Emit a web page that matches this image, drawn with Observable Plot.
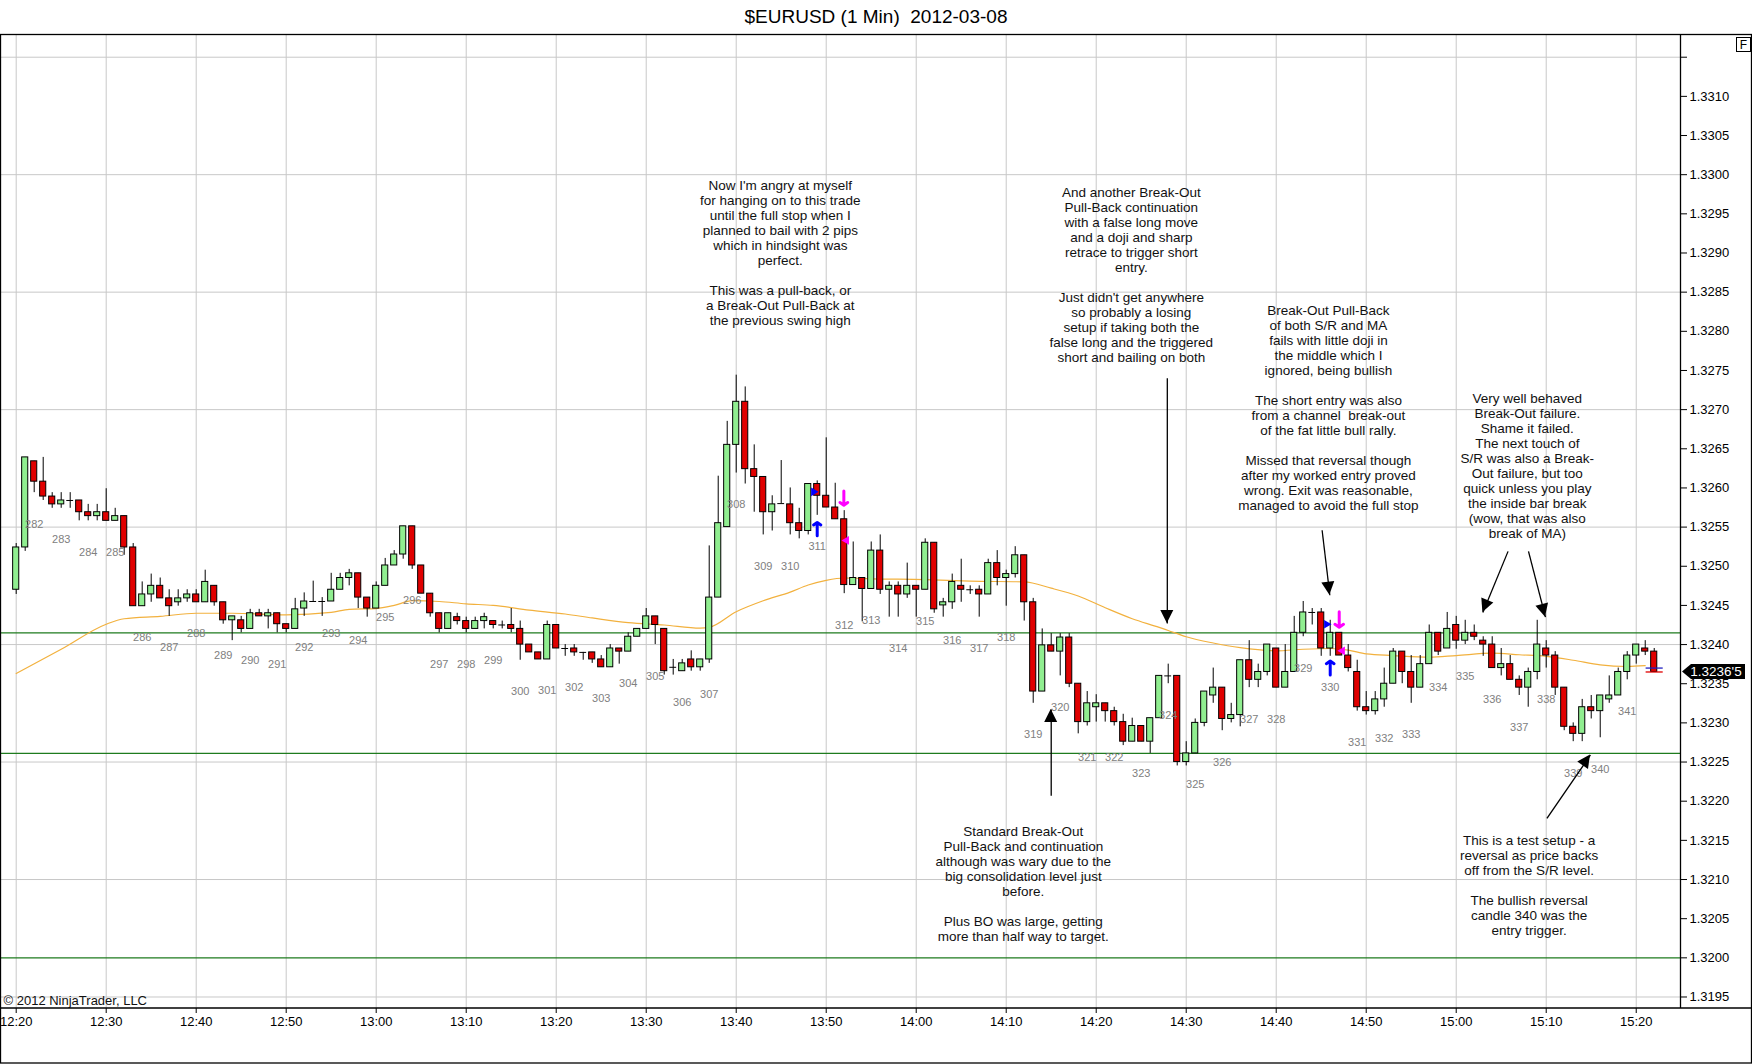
<!DOCTYPE html>
<html><head><meta charset="utf-8">
<script src="https://cdn.jsdelivr.net/npm/d3@7"></script>
<script src="https://cdn.jsdelivr.net/npm/@observablehq/plot@0.6"></script>
<style>
body{margin:0;background:#fff;font-family:"Liberation Sans",Arial,sans-serif;}
#wrap{position:relative;width:1752px;height:1064px;overflow:hidden;background:#fff;}
#title{height:34px;line-height:34px;text-align:center;font-size:19px;color:#000;white-space:pre;}
#chart svg{display:block;}
</style></head><body>
<div id="wrap"><div id="title">$EURUSD (1 Min)  2012-03-08</div><div id="chart"></div></div>
<script>
// ---- data: 1-minute bars starting 12:20 (bar index 0) ----
const open = [
1.32470,1.32524,1.32634,1.32608,1.32589,1.32579,1.32584,1.32584,1.32569,1.32564,
1.32569,1.32558,1.32564,1.32524,1.32449,1.32464,1.32475,1.32459,1.32454,1.32459,
1.32464,1.32454,1.32475,1.32454,1.32431,1.32431,1.32420,1.32440,1.32436,1.32440,
1.32426,1.32420,1.32446,1.32455,1.32455,1.32455,1.32470,1.32485,1.32491,1.32460,
1.32446,1.32475,1.32501,1.32515,1.32551,1.32501,1.32465,1.32440,1.32420,1.32435,
1.32430,1.32420,1.32430,1.32430,1.32425,1.32425,1.32420,1.32400,1.32390,1.32381,
1.32425,1.32395,1.32395,1.32390,1.32390,1.32381,1.32371,1.32395,1.32391,1.32410,
1.32420,1.32436,1.32420,1.32371,1.32366,1.32381,1.32371,1.32381,1.32460,1.32550,
1.32655,1.32710,1.32624,1.32614,1.32569,1.32580,1.32579,1.32555,1.32545,1.32605,
1.32590,1.32575,1.32560,1.32476,1.32485,1.32471,1.32520,1.32470,1.32475,1.32464,
1.32475,1.32470,1.32530,1.32450,1.32454,1.32475,1.32470,1.32470,1.32464,1.32504,
1.32485,1.32490,1.32514,1.32454,1.32340,1.32399,1.32391,1.32409,1.32350,1.32301,
1.32320,1.32325,1.32315,1.32301,1.32276,1.32296,1.32276,1.32306,1.32360,1.32360,
1.32250,1.32261,1.32300,1.32335,1.32345,1.32305,1.32310,1.32380,1.32355,1.32365,
1.32395,1.32345,1.32365,1.32415,1.32441,1.32441,1.32395,1.32415,1.32386,1.32365,
1.32320,1.32315,1.32330,1.32350,1.32391,1.32365,1.32345,1.32375,1.32415,1.32395,
1.32425,1.32405,1.32415,1.32405,1.32400,1.32370,1.32375,1.32355,1.32345,1.32365,
1.32395,1.32386,1.32345,1.32295,1.32286,1.32320,1.32315,1.32330,1.32335,1.32365,
1.32386,1.32395,1.32391];
const high = [
1.32529,1.32639,1.32634,1.32639,1.32594,1.32594,1.32594,1.32584,1.32579,1.32579,
1.32599,1.32574,1.32564,1.32529,1.32480,1.32490,1.32485,1.32470,1.32470,1.32470,
1.32470,1.32495,1.32475,1.32454,1.32436,1.32436,1.32445,1.32445,1.32445,1.32440,
1.32426,1.32459,1.32466,1.32481,1.32460,1.32491,1.32491,1.32496,1.32491,1.32460,
1.32480,1.32510,1.32520,1.32551,1.32551,1.32501,1.32465,1.32440,1.32440,1.32440,
1.32435,1.32435,1.32440,1.32430,1.32430,1.32446,1.32430,1.32400,1.32390,1.32430,
1.32425,1.32400,1.32400,1.32390,1.32390,1.32386,1.32400,1.32395,1.32415,1.32420,
1.32446,1.32436,1.32420,1.32381,1.32381,1.32392,1.32381,1.32526,1.32615,1.32685,
1.32744,1.32729,1.32655,1.32614,1.32590,1.32635,1.32600,1.32574,1.32605,1.32609,
1.32664,1.32606,1.32571,1.32531,1.32485,1.32531,1.32540,1.32480,1.32480,1.32504,
1.32475,1.32535,1.32530,1.32459,1.32490,1.32509,1.32475,1.32475,1.32509,1.32520,
1.32495,1.32525,1.32514,1.32459,1.32420,1.32414,1.32414,1.32414,1.32350,1.32340,
1.32336,1.32325,1.32320,1.32311,1.32306,1.32296,1.32306,1.32360,1.32375,1.32360,
1.32276,1.32305,1.32340,1.32370,1.32345,1.32325,1.32380,1.32405,1.32375,1.32400,
1.32395,1.32400,1.32436,1.32455,1.32446,1.32446,1.32431,1.32415,1.32400,1.32380,
1.32340,1.32340,1.32370,1.32395,1.32391,1.32386,1.32386,1.32425,1.32415,1.32441,
1.32436,1.32431,1.32425,1.32410,1.32410,1.32395,1.32386,1.32360,1.32370,1.32431,
1.32405,1.32391,1.32345,1.32300,1.32330,1.32335,1.32335,1.32360,1.32370,1.32391,
1.32400,1.32405,1.32395];
const low = [
1.32464,1.32519,1.32594,1.32584,1.32574,1.32574,1.32574,1.32558,1.32558,1.32558,
1.32558,1.32558,1.32514,1.32449,1.32449,1.32454,1.32459,1.32436,1.32449,1.32454,
1.32454,1.32454,1.32449,1.32426,1.32405,1.32415,1.32420,1.32436,1.32420,1.32415,
1.32415,1.32420,1.32436,1.32455,1.32436,1.32455,1.32470,1.32475,1.32446,1.32435,
1.32446,1.32475,1.32501,1.32509,1.32496,1.32465,1.32435,1.32415,1.32420,1.32425,
1.32415,1.32420,1.32420,1.32420,1.32420,1.32415,1.32380,1.32390,1.32381,1.32381,
1.32395,1.32385,1.32385,1.32380,1.32376,1.32371,1.32371,1.32375,1.32391,1.32410,
1.32420,1.32400,1.32361,1.32361,1.32366,1.32366,1.32366,1.32376,1.32460,1.32550,
1.32619,1.32605,1.32569,1.32540,1.32545,1.32580,1.32540,1.32535,1.32540,1.32565,
1.32575,1.32560,1.32465,1.32476,1.32429,1.32471,1.32464,1.32435,1.32435,1.32459,
1.32435,1.32470,1.32440,1.32435,1.32445,1.32454,1.32464,1.32435,1.32464,1.32475,
1.32449,1.32485,1.32430,1.32325,1.32340,1.32391,1.32360,1.32345,1.32286,1.32296,
1.32301,1.32301,1.32296,1.32271,1.32276,1.32276,1.32261,1.32306,1.32350,1.32245,
1.32245,1.32261,1.32295,1.32325,1.32290,1.32300,1.32295,1.32345,1.32345,1.32360,
1.32345,1.32345,1.32365,1.32410,1.32425,1.32385,1.32385,1.32386,1.32365,1.32315,
1.32310,1.32310,1.32320,1.32350,1.32350,1.32325,1.32345,1.32375,1.32386,1.32395,
1.32394,1.32400,1.32405,1.32385,1.32370,1.32360,1.32355,1.32335,1.32320,1.32355,
1.32370,1.32335,1.32290,1.32276,1.32276,1.32305,1.32281,1.32325,1.32335,1.32355,
1.32375,1.32386,1.32365];
const close = [
1.32524,1.32639,1.32608,1.32589,1.32579,1.32584,1.32584,1.32569,1.32564,1.32569,
1.32558,1.32564,1.32524,1.32449,1.32464,1.32475,1.32459,1.32449,1.32459,1.32464,
1.32454,1.32480,1.32454,1.32431,1.32436,1.32420,1.32440,1.32436,1.32440,1.32426,
1.32420,1.32445,1.32455,1.32455,1.32455,1.32470,1.32485,1.32491,1.32460,1.32446,
1.32475,1.32501,1.32515,1.32551,1.32501,1.32465,1.32440,1.32420,1.32440,1.32430,
1.32420,1.32430,1.32435,1.32425,1.32425,1.32420,1.32400,1.32390,1.32381,1.32425,
1.32395,1.32395,1.32390,1.32390,1.32381,1.32371,1.32395,1.32391,1.32410,1.32420,
1.32436,1.32425,1.32366,1.32371,1.32376,1.32371,1.32381,1.32460,1.32555,1.32655,
1.32710,1.32624,1.32614,1.32569,1.32579,1.32580,1.32555,1.32545,1.32605,1.32590,
1.32575,1.32560,1.32476,1.32485,1.32471,1.32520,1.32470,1.32475,1.32464,1.32475,
1.32470,1.32530,1.32445,1.32454,1.32480,1.32470,1.32470,1.32464,1.32504,1.32485,
1.32490,1.32514,1.32454,1.32340,1.32399,1.32391,1.32409,1.32350,1.32301,1.32325,
1.32325,1.32315,1.32301,1.32276,1.32296,1.32276,1.32306,1.32360,1.32360,1.32250,
1.32261,1.32300,1.32340,1.32345,1.32305,1.32310,1.32380,1.32355,1.32365,1.32400,
1.32345,1.32365,1.32415,1.32441,1.32441,1.32395,1.32415,1.32386,1.32370,1.32320,
1.32315,1.32330,1.32350,1.32391,1.32365,1.32345,1.32375,1.32415,1.32391,1.32420,
1.32405,1.32415,1.32410,1.32400,1.32370,1.32375,1.32355,1.32345,1.32365,1.32400,
1.32386,1.32345,1.32295,1.32286,1.32320,1.32315,1.32335,1.32335,1.32365,1.32386,
1.32400,1.32391,1.32365];

// moving average (bar index, value)
const maBar = [0,5,10,12,16,20,24,30,35,37,40,42,44,47,50,53,57,61,64,68,72,76,77,80,83,86,88,90,92,95,101,106,112,115,118,121,124,127,128,130,133,136,140,143,146,148,150,153,157,160,164,167,170,173,176,179,181];
const maVal = [1.32363,1.32394,1.32426,1.32433,1.32436,1.32440,1.32440,1.32438,1.32441,1.32445,1.32446,1.32450,1.32456,1.32455,1.32452,1.32450,1.32444,1.32439,1.32434,1.32428,1.32425,1.32421,1.32422,1.32442,1.32456,1.32467,1.32476,1.32482,1.32485,1.32484,1.32483,1.32481,1.32480,1.32472,1.32462,1.32447,1.32433,1.32422,1.32418,1.32410,1.32402,1.32396,1.32392,1.32394,1.32395,1.32393,1.32388,1.32386,1.32384,1.32386,1.32389,1.32387,1.32385,1.32380,1.32374,1.32372,1.32373];

// bar count labels (every third bar, from bar 2)
const barLabels = [282,283,284,285,286,287,288,289,290,291,292,293,294,295,296,297,298,299,300,301,302,303,304,305,306,307,308,309,310,311,312,313,314,315,316,317,318,319,320,321,322,323,324,325,326,327,328,329,330,331,332,333,334,335,336,337,338,339,340,341];

const srLevels = [1.32415, 1.32261, 1.32000];
const lastPrice = 1.32365;
const lastPriceText = "1.3236'5";

const xTicks = [0,10,20,30,40,50,60,70,80,90,100,110,120,130,140,150,160,170,180];
const xTickLabels = ["12:20","12:30","12:40","12:50","13:00","13:10","13:20","13:30","13:40","13:50","14:00","14:10","14:20","14:30","14:40","14:50","15:00","15:10","15:20"];
const yTicks = [1.3195,1.3200,1.3205,1.3210,1.3215,1.3220,1.3225,1.3230,1.3235,1.3240,1.3245,1.3250,1.3255,1.3260,1.3265,1.3270,1.3275,1.3280,1.3285,1.3290,1.3295,1.3300,1.3305,1.3310,1.3315];
const yTickLabels = ["1.3195","1.3200","1.3205","1.3210","1.3215","1.3220","1.3225","1.3230","1.3235","1.3240","1.3245","1.3250","1.3255","1.3260","1.3265","1.3270","1.3275","1.3280","1.3285","1.3290","1.3295","1.3300","1.3305","1.3310",""];
const yGrid = [1.3195,1.3210,1.3225,1.3240,1.3255,1.3270,1.3285,1.3300,1.3315];

const noteText = [
"Now I'm angry at myself\nfor hanging on to this trade\nuntil the full stop when I\nplanned to bail with 2 pips\nwhich in hindsight was\nperfect.\n\nThis was a pull-back, or\na Break-Out Pull-Back at\nthe previous swing high",
"And another Break-Out\nPull-Back continuation\nwith a false long move\nand a doji and sharp\nretrace to trigger short\nentry.\n\nJust didn't get anywhere\nso probably a losing\nsetup if taking both the\nfalse long and the triggered\nshort and bailing on both",
"Break-Out Pull-Back\nof both S/R and MA\nfails with little doji in\nthe middle which I\nignored, being bullish\n\nThe short entry was also\nfrom a channel  break-out\nof the fat little bull rally.\n\nMissed that reversal though\nafter my worked entry proved\nwrong. Exit was reasonable,\nmanaged to avoid the full stop",
"Very well behaved\nBreak-Out failure.\nShame it failed.\nThe next touch of\nS/R was also a Break-\nOut failure, but too\nquick unless you play\nthe inside bar break\n(wow, that was also\nbreak of MA)",
"Standard Break-Out\nPull-Back and continuation\nalthough was wary due to the\nbig consolidation level just\nbefore.\n\nPlus BO was large, getting\nmore than half way to target.",
"This is a test setup - a\nreversal as price backs\noff from the S/R level.\n\nThe bullish reversal\ncandle 340 was the\nentry trigger."
];
const noteBar = [84.9, 123.9, 145.8, 167.9, 111.9, 168.1];
const notePrice = [1.32994, 1.32985, 1.32834, 1.32722, 1.32169, 1.32158];

// callout arrows: tail (bar, price) -> tip (bar, price)
const calloutFromBar = [115.0, 127.9, 145.1, 165.76, 168.03, 170.08];
const calloutFromPrice = [1.32207, 1.32740, 1.32546, 1.32519, 1.32519, 1.32178];
const calloutToBar = [115.0, 127.9, 145.96, 162.96, 169.92, 174.92];
const calloutToPrice = [1.32317, 1.32427, 1.32463, 1.32441, 1.32435, 1.32259];

// trade markers
const longArrowBar = [89.0, 146.0], longArrowFrom = [1.32539, 1.32361], longArrowTo = [1.32556, 1.32379];
const shortArrowBar = [91.96, 147.0], shortArrowFrom = [1.32596, 1.32442], shortArrowTo = [1.32578, 1.32422];
const entryMarkBar = [88.6, 145.6], entryMarkPrice = [1.32595, 1.32426];
const exitMarkBar = [92.25, 147.35], exitMarkPrice = [1.32533, 1.32392];

// ---- build ----
const candles = open.map((o, i) => ({k: i, o, h: high[i], l: low[i], c: close[i]}));
const bodies = candles.filter(d => d.o !== d.c);
const dojis = candles.filter(d => d.o === d.c);
const labels = barLabels.map(n => { const k = 2 + 3 * (n - 282); return {k, n, l: low[k]}; });
const ma = maBar.map((k, i) => ({k, v: maVal[i]}));
const notes = noteText.map((t, i) => ({k: noteBar[i], p: notePrice[i], t}));
const callouts = calloutFromBar.map((k, i) => ({k1: k, p1: calloutFromPrice[i], k2: calloutToBar[i], p2: calloutToPrice[i]}));
const longs = longArrowBar.map((k, i) => ({k, p1: longArrowFrom[i], p2: longArrowTo[i]}));
const shorts = shortArrowBar.map((k, i) => ({k, p1: shortArrowFrom[i], p2: shortArrowTo[i]}));
const entries = entryMarkBar.map((k, i) => ({k, p: entryMarkPrice[i]}));
const exits = exitMarkBar.map((k, i) => ({k, p: exitMarkPrice[i]}));

const xDomain = [-1.633, 184.92];
const yDomain = [1.319353, 1.331790];
const FONT = "'Liberation Sans', Arial, sans-serif";

const plot = Plot.plot({
  width: 1752, height: 1030,
  marginTop: 0, marginBottom: 56, marginLeft: 1, marginRight: 72,
  x: {domain: xDomain},
  y: {domain: yDomain},
  style: {fontFamily: FONT, fontSize: "13px", background: "#fff", color: "#000", overflow: "visible"},
  marks: [
    Plot.gridX(xTicks, {stroke: "#c8c8c8", strokeOpacity: 1}),
    Plot.gridY(yGrid, {stroke: "#c8c8c8", strokeOpacity: 1}),
    Plot.ruleY(srLevels, {stroke: "#1e7b1e", strokeWidth: 1.3}),
    Plot.line(ma, {x: "k", y: "v", stroke: "#f2b13e", strokeWidth: 1.2, curve: "monotone-x"}),
    Plot.ruleX(candles, {x: "k", y1: "l", y2: "h", stroke: "#000", strokeWidth: 1}),
    Plot.rect(bodies, {x1: d => d.k - 0.34, x2: d => d.k + 0.34, y1: "o", y2: "c",
      fill: d => d.c > d.o ? "#90ee90" : "#e00000", stroke: "#000", strokeWidth: 1}),
    Plot.ruleY(dojis, {y: "o", x1: d => d.k - 0.38, x2: d => d.k + 0.38, stroke: "#000", strokeWidth: 1}),
    Plot.text(labels, {x: "k", y: "l", dy: 31.5, text: d => String(d.n), fill: "#808080", fontSize: 11}),
    Plot.ruleY([lastPrice + 0.00005], {x1: 181.1, x2: 183.0, stroke: "#2020c0", strokeWidth: 1.3}),
    Plot.ruleY([lastPrice], {x1: 181.1, x2: 183.0, stroke: "#e00000", strokeWidth: 1.3}),
    Plot.arrow(longs, {x1: "k", x2: "k", y1: "p1", y2: "p2", stroke: "#0000ff", strokeWidth: 3, headLength: 6, headAngle: 110}),
    Plot.arrow(shorts, {x1: "k", x2: "k", y1: "p1", y2: "p2", stroke: "#ff00ff", strokeWidth: 3, headLength: 6, headAngle: 110}),
    Plot.dot(entries, {x: "k", y: "p", symbol: "triangle", r: 3.2, fill: "#0000ff", rotate: 90}),
    Plot.dot(exits, {x: "k", y: "p", symbol: "triangle", r: 3.2, fill: "#ff00ff", rotate: -90}),
    Plot.link(callouts, {x1: "k1", y1: "p1", x2: "k2", y2: "p2", stroke: "#000", strokeWidth: 1.3}),
    Plot.text(notes, {x: "k", y: "p", text: "t", lineAnchor: "top", textAnchor: "middle",
      fontSize: 13.5, lineHeight: 15 / 13.5, fill: "#111", ariaLabel: "note"}),
    Plot.text(["© 2012 NinjaTrader, LLC"], {frameAnchor: "bottom-left", textAnchor: "start", lineAnchor: "middle",
      dx: 2, dy: -7.5, fill: "#111", fontSize: 13}),
    Plot.ruleX([xDomain[1]], {stroke: "#000", strokeWidth: 1.3}),
    Plot.axisX({ticks: xTicks, tickFormat: d => xTickLabels[xTicks.indexOf(d)], tickSize: 5, tickPadding: 3, fontSize: 13, label: null}),
    Plot.axisY({ticks: yTicks, anchor: "right", tickFormat: d => yTickLabels[yTicks.indexOf(d)], tickSize: 6, tickPadding: 3, fontSize: 13, label: null})
  ]
});

document.getElementById("chart").append(plot);

const svg = d3.select(plot);
const xScale = plot.scale("x"), yScale = plot.scale("y");

// white backing behind annotation blocks
const noteG = plot.querySelector('g[aria-label="note"]');
if (noteG) {
  noteG.querySelectorAll("text").forEach(t => {
    const b = t.getBBox();
    const r = document.createElementNS("http://www.w3.org/2000/svg", "rect");
    r.setAttribute("x", b.x - 10); r.setAttribute("y", b.y);
    r.setAttribute("width", b.width + 20); r.setAttribute("height", b.height);
    r.setAttribute("fill", "#fff"); r.setAttribute("stroke", "none");
    const tr = t.getAttribute("transform"); if (tr) r.setAttribute("transform", tr);
    t.parentNode.insertBefore(r, t);
  });
}

// filled arrow heads at the tips of the callout lines (positioned through the plot's scales)
const heads = svg.append("g").attr("fill", "#000");
callouts.forEach(d => {
  const x1 = xScale.apply(d.k1), y1 = yScale.apply(d.p1);
  const x2 = xScale.apply(d.k2), y2 = yScale.apply(d.p2);
  const len = Math.hypot(x2 - x1, y2 - y1) || 1;
  const ux = (x2 - x1) / len, uy = (y2 - y1) / len;
  const bx = x2 - 13 * ux, by = y2 - 13 * uy;
  const nx = -uy * 6.5, ny = ux * 6.5;
  heads.append("path").attr("d", `M${x2},${y2}L${bx + nx},${by + ny}L${bx - nx},${by - ny}Z`);
});

// outer frame, full-width time axis line, "F" box and last price tag
const W = 1752, Hh = 1030;
const axisX = xScale.apply(xDomain[1]);
const bottomY = yScale.apply(yDomain[0]);
svg.append("line").attr("x1", 0).attr("x2", W).attr("y1", bottomY).attr("y2", bottomY).attr("stroke", "#000").attr("stroke-width", 1.3);
svg.append("rect").attr("x", 0.5).attr("y", 0.5).attr("width", W - 1).attr("height", Hh - 1.5)
  .attr("fill", "none").attr("stroke", "#000").attr("stroke-width", 1.3);
svg.append("rect").attr("x", 1736.5).attr("y", 3.5).attr("width", 14).attr("height", 14).attr("fill", "#fff").attr("stroke", "#000");
svg.append("text").attr("x", 1743.5).attr("y", 15).attr("text-anchor", "middle").attr("font-size", 12).attr("fill", "#000").text("F");
const py = yScale.apply(lastPrice);
svg.append("path").attr("d", `M${axisX + 2},${py}L${axisX + 11},${py - 7.5}L${W - 7},${py - 7.5}L${W - 7},${py + 7.5}L${axisX + 11},${py + 7.5}Z`).attr("fill", "#000");
svg.append("text").attr("x", axisX + 36).attr("y", py + 4.7).attr("text-anchor", "middle").attr("font-size", 13.5).attr("fill", "#fff").text(lastPriceText);
</script></body></html>
